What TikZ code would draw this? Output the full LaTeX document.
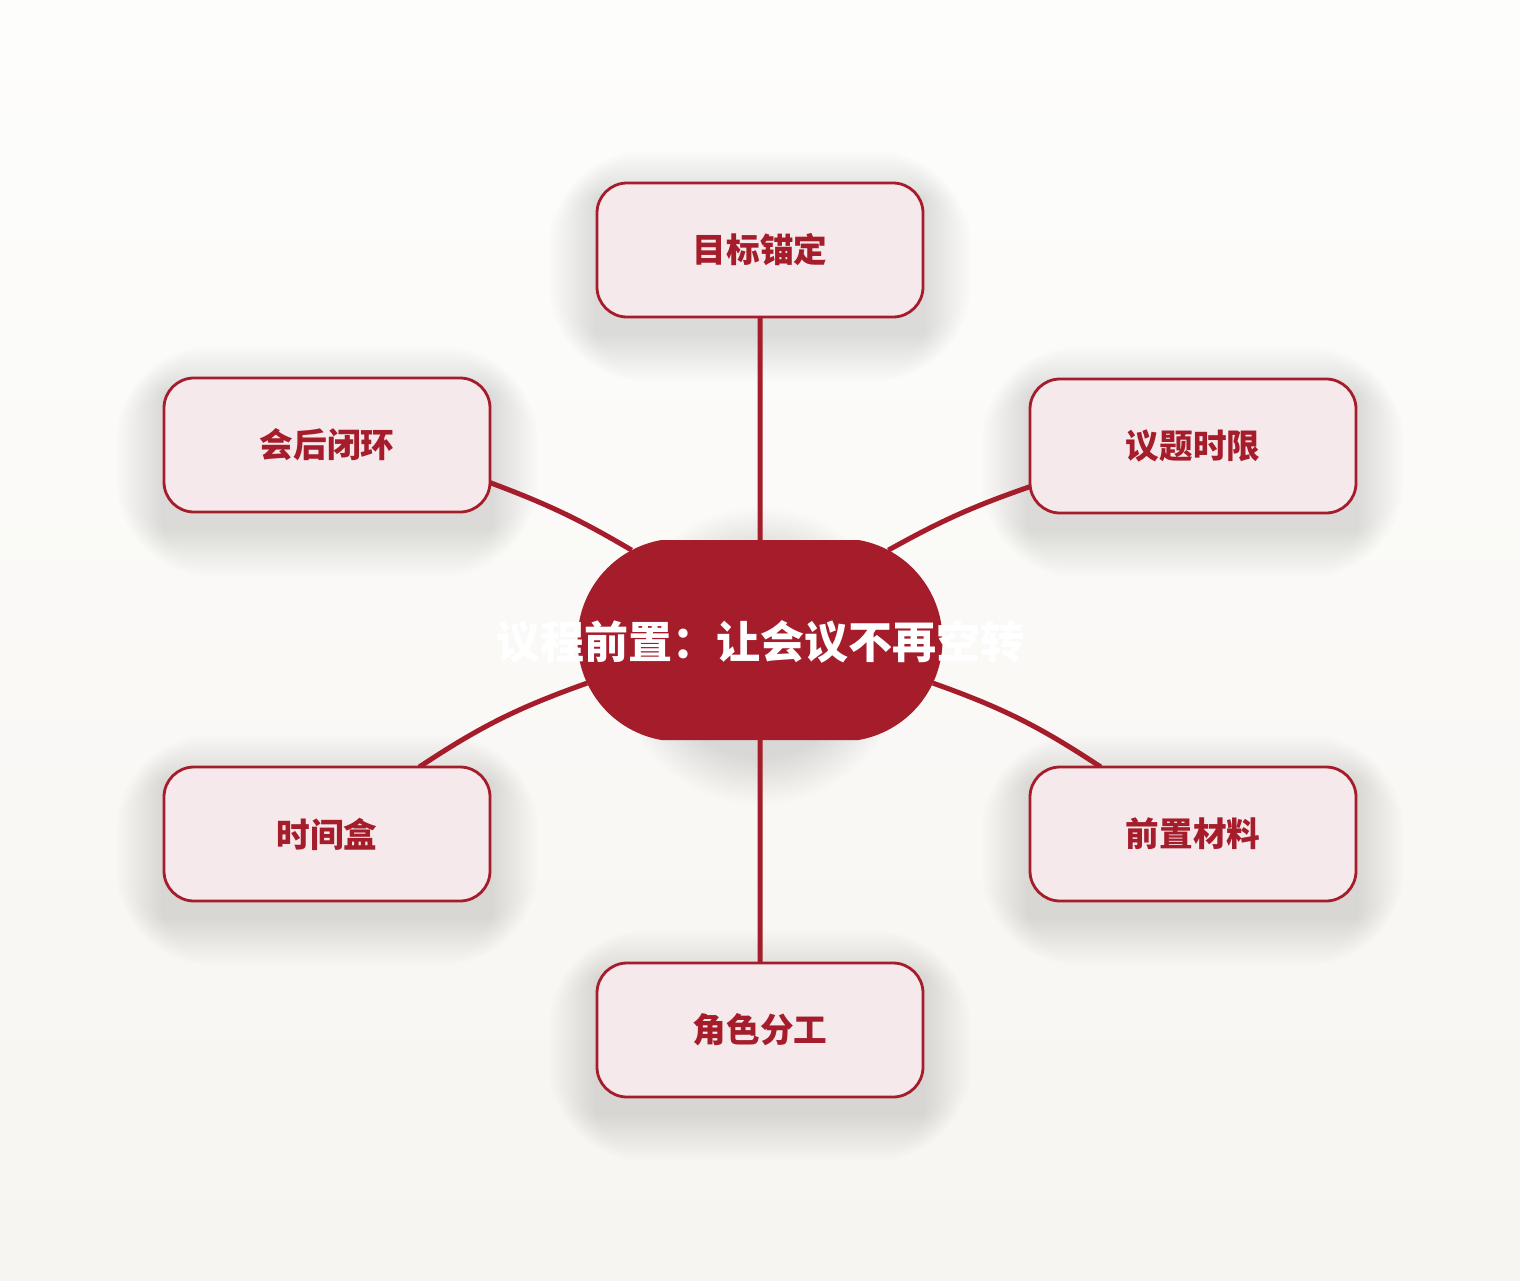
\documentclass[tikz,border=0pt]{standalone}
\usepackage{fontspec}
\newfontfamily\cjk{Noto Sans CJK SC}
\usetikzlibrary{shapes.misc}

\definecolor{agendared}{HTML}{A51C2B}
\definecolor{cardfill}{HTML}{F5E9EB}
\definecolor{pagetop}{HTML}{FDFDFC}
\definecolor{pagebottom}{HTML}{F7F5F1}

\pgfdeclarelayer{paper}
\pgfdeclarelayer{shade}
\pgfdeclarelayer{links}
\pgfsetlayers{paper,shade,links,main}

\begin{document}
\begin{tikzpicture}[x=0.5pt,y=-0.5pt,
  hub node/.style={rounded rectangle,rounded rectangle arc length=160,fill=agendared,
    minimum width=182.5pt,minimum height=100pt,inner sep=0pt,outer sep=0pt},
  hub title/.style={text=white,inner sep=0pt,font={\cjk\bfseries\fontsize{22}{26}\selectfont}},
  topic node/.style={rectangle,rounded corners=15pt,draw=agendared,line width=1.4pt,
    fill=cardfill,minimum width=163pt,minimum height=67pt,outer sep=0pt,
    text=agendared,font={\cjk\bfseries\fontsize{16.8}{20}\selectfont}},
  link/.style={draw=agendared,line width=2.5pt}]

  \useasboundingbox (0,0) rectangle (1520,1280);

  \node[hub node,label={[hub title,yshift=-1pt]center:议程前置：让会议不再空转}] (hub) at (760,640) {};
  \node[topic node] (goal)  at (760,250)  {目标锚定};
  \node[topic node] (close) at (327,445)  {会后闭环};
  \node[topic node] (limit) at (1193,446) {议题时限};
  \node[topic node] (tbox)  at (327,834)  {时间盒};
  \node[topic node] (prep)  at (1193,834) {前置材料};
  \node[topic node] (role)  at (760,1030) {角色分工};

  \begin{pgfonlayer}{paper}
    \shade[top color=pagetop,bottom color=pagebottom] (0,0) rectangle (1520,1280);
  \end{pgfonlayer}

  % soft shadows
  \begin{pgfonlayer}{shade}
    \foreach \n in {goal,close,limit,tbox,prep,role}
      \foreach \r [evaluate=\r as \rc using 15+\r/2] in {3,6,...,48}
        \fill[black,opacity=0.007,rounded corners=\rc pt]
          ([shift={(-\r,-\r+16)}]\n.north west) rectangle ([shift={(\r,\r+16)}]\n.south east);
    \foreach \r [evaluate=\r as \rc using 50+\r/2] in {3,6,...,48}
      \fill[black,opacity=0.009,rounded corners=\rc pt]
        ([shift={(-\r,-\r+16)}]hub.north west) rectangle ([shift={(\r,\r+16)}]hub.south east);
  \end{pgfonlayer}

  \begin{pgfonlayer}{links}
    \path[link] (goal.south) -- (hub.north)
      (close.-13) to[bend left=5] (hub.145)
      (limit.194) to[bend right=5] (hub.35)
      (tbox.36) to[bend left=7] (hub.194)
      (prep.144) to[bend right=7] (hub.-14)
      (role.north) -- (hub.south);
  \end{pgfonlayer}
\end{tikzpicture}
\end{document}
